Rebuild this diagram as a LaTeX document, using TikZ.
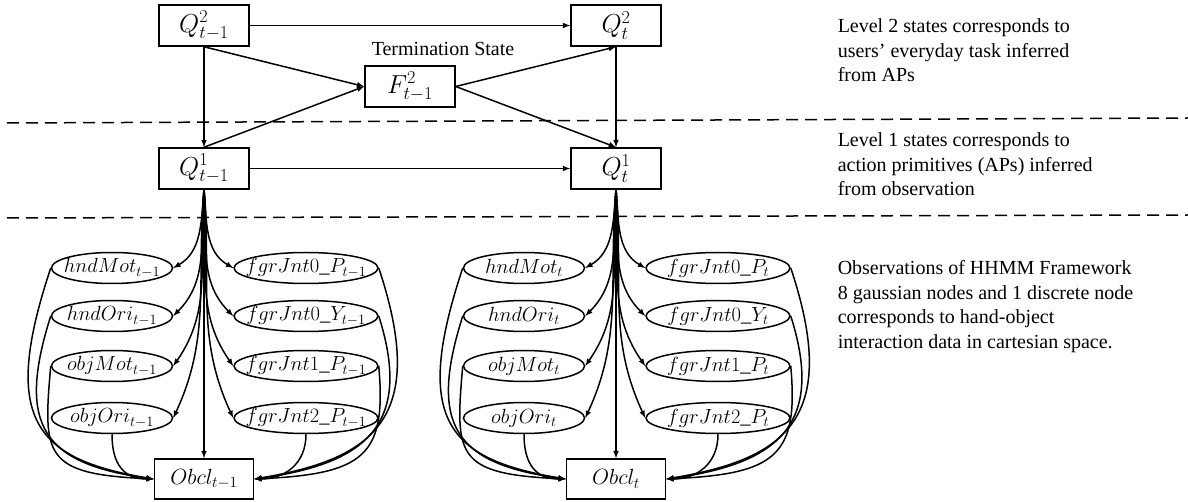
\RequirePackage{fix-cm}
\documentclass[tikz,border=0pt]{standalone}
\usepackage{fontspec}
\setmainfont{Liberation Serif}
\usetikzlibrary{shapes.geometric}

\begin{document}
\begin{tikzpicture}[x=1pt, y=-1pt, line width=1.5pt, >=latex,
  state/.style={draw, rectangle, minimum width=90pt, minimum height=41pt, inner sep=0pt, font=\fontsize{26}{26}\selectfont},
  obs/.style={draw, ellipse, minimum height=31pt, inner sep=0pt, font=\fontsize{20.5}{20.5}\selectfont},
  note/.style={anchor=north west, align=left, inner sep=0pt, font=\fontsize{20}{24.5}\selectfont},
  sep/.style={dash pattern=on 12pt off 7pt}]
  \useasboundingbox (0,0) rectangle (1188,502);

  \draw[sep] (7,123) -- (1188,118);
  \draw[sep] (7,218) -- (1188,215);

  \node[state] (q2prev) at (204,25.5) {$Q^2_{t-1}$};
  \node[state] (q2now) at (616,25.5) {$Q^2_t$};
  \node[state] (f2prev) at (410,86.5) {$F^2_{t-1}$};
  \node[inner sep=0pt, font=\fontsize{20}{20}\selectfont] (term) at (443,49) {Termination State};
  \node[state] (q1prev) at (204,168.5) {$Q^1_{t-1}$};
  \node[state] (q1now) at (616,168.5) {$Q^1_t$};

  \draw[->] (q2prev) -- (q2now);
  \draw[->] (q1prev) -- (q1now);
  \draw[->] (q2prev) -- (q1prev);
  \draw[->] (q2now) -- (q1now);
  \draw[->] (q2prev.south) -- (f2prev.west);
  \draw[->] (q1prev.north) -- (f2prev.west);
  \draw[->] (f2prev.east) -- (q2now.south);
  \draw[->] (f2prev.east) -- (q1now.north);

  \foreach \n/\dx/\s in {prev/0/{t-1}, now/412/t} {
    \node[state, minimum width=99pt, minimum height=40pt, font=\fontsize{22}{22}\selectfont] (obcl\n) at (204+\dx,479) {$Obcl_{\s}$};
    \draw[->] (q1\n) -- (obcl\n);
    \foreach \lab/\y/\k/\a/\p/\ca/\cb in {hndMot/268/1/30/west/{-50,150}/{-120,-20}, hndOri/316/2/45/west/{-35,110}/{-110,-15},
        objMot/366/3/55/west/{-8,90}/{-110,-5}, objOri/418/4/65/south/{0,30}/{-30,0}} {
      \node[obs, minimum width=121pt] (l\k\n) at (112+\dx,\y) {\makebox[0pt]{$\lab_{\s}$}};
      \draw[->] (q1\n.south) to[out=-95, in=\a] (l\k\n.east);
      \draw[->] (l\k\n.\p) .. controls +(\ca) and +(\cb) .. (obcl\n.west);
    }
    \foreach \lab/\y/\k/\a/\p/\ca/\cb in {fgrJnt0\_P/268/1/150/east/{50,150}/{120,-20}, fgrJnt0\_Y/316/2/135/east/{35,110}/{110,-15},
        fgrJnt1\_P/366/3/125/east/{8,90}/{110,-5}, fgrJnt2\_P/418/4/115/south/{0,30}/{30,0}} {
      \node[obs, minimum width=144pt] (r\k\n) at (306+\dx,\y) {\makebox[0pt]{$\lab_{\s}$}};
      \draw[->] (q1\n.south) to[out=-85, in=\a] (r\k\n.west);
      \draw[->] (r\k\n.\p) .. controls +(\ca) and +(\cb) .. (obcl\n.east);
    }
  }

  \node[note] (lvl2) at (837,18) {Level 2 states corresponds to\\users’ everyday task inferred\\from APs};
  \node[note] (lvl1) at (837,132) {Level 1 states corresponds to\\action primitives (APs) inferred\\from observation};
  \node[note] (obsnote) at (837,260) {Observations of HHMM Framework\\8 gaussian nodes and 1 discrete node\\corresponds to hand-object\\interaction data in cartesian space.};
\end{tikzpicture}
\end{document}
